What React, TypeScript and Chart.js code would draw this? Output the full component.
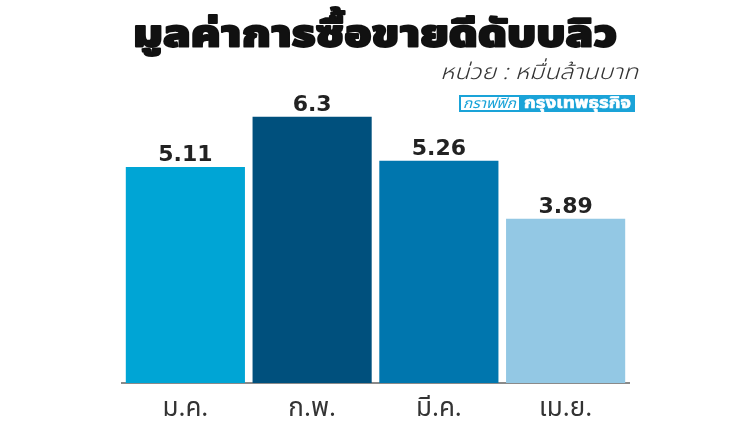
import React, { useEffect, useRef } from "react";
import { Chart, registerables } from "chart.js";

Chart.register(...registerables);

const categories = ["ม.ค.", "ก.พ.", "มี.ค.", "เม.ย."];
const values = [5.11, 6.3, 5.26, 3.89];
const valueLabels = ["5.11", "6.3", "5.26", "3.89"];
const barColors = ["#00a5d5", "#00507d", "#0076ae", "#93c8e4"];
const titleText = "มูลค่าการซื้อขายดีดับบลิว";
const unitText = "หน่วย : หมื่นล้านบาท";
const badgeLeft = "กราฟฟิก";
const badgeRight = "กรุงเทพธุรกิจ";

const THAI = "'Noto Sans Thai', 'Noto Sans Thai Looped', Loma, Garuda, 'Noto Sans', sans-serif";

function fitText(
  ctx: CanvasRenderingContext2D,
  text: string,
  left: number,
  width: number,
  baseline: number,
  stroke = 0
) {
  const w = ctx.measureText(text).width;
  const s = width / w;
  ctx.save();
  ctx.translate(left, baseline);
  ctx.scale(s, 1);
  ctx.textAlign = "left";
  ctx.textBaseline = "alphabetic";
  if (stroke > 0) {
    ctx.lineWidth = stroke;
    ctx.lineJoin = "round";
    ctx.strokeStyle = ctx.fillStyle as string;
    ctx.strokeText(text, 0, 0);
  }
  ctx.fillText(text, 0, 0);
  ctx.restore();
}

const overlay = {
  id: "overlay",
  afterDatasetsDraw(chart: any) {
    const ctx = chart.ctx as CanvasRenderingContext2D;
    const meta = chart.getDatasetMeta(0);
    ctx.save();
    // value labels
    ctx.fillStyle = "#222222";
    ctx.font = "bold 22px 'DejaVu Sans', sans-serif";
    ctx.textAlign = "center";
    ctx.textBaseline = "alphabetic";
    meta.data.forEach((bar: any, i: number) => {
      ctx.fillText(valueLabels[i], bar.x, bar.y - 6);
    });
    // title
    ctx.fillStyle = "#111111";
    ctx.font = `900 37px ${THAI}`;
    fitText(ctx, titleText, 133, 484, 46, 1.8);
    // unit
    ctx.fillStyle = "#333333";
    ctx.font = `italic 300 21px ${THAI}`;
    fitText(ctx, unitText, 440, 198, 79);
    // badge
    const bx = 459, by = 95, bh = 17, split = 520, bx2 = 635;
    ctx.fillStyle = "#1aa3d8";
    ctx.fillRect(bx, by, bx2 - bx, bh);
    ctx.fillStyle = "#ffffff";
    ctx.fillRect(bx + 2, by + 2, split - bx - 3, bh - 4);
    ctx.font = `italic 14px ${THAI}`;
    ctx.fillStyle = "#1aa3d8";
    fitText(ctx, badgeLeft, 463, 53, by + 13);
    ctx.font = `bold 15px ${THAI}`;
    ctx.fillStyle = "#ffffff";
    fitText(ctx, badgeRight, 524, 107, by + 13, 0.6);
    ctx.restore();
  },
};

export default function App() {
  const ref = useRef<HTMLCanvasElement | null>(null);
  useEffect(() => {
    if (!ref.current) return;
    const chart = new Chart(ref.current, {
      type: "bar",
      data: {
        labels: categories,
        datasets: [
          {
            data: values,
            backgroundColor: barColors,
            categoryPercentage: 0.94,
            barPercentage: 1,
          },
        ],
      },
      options: {
        responsive: false,
        animation: false,
        devicePixelRatio: 1,
        layout: { padding: { left: 122, right: 121, top: 45, bottom: 0 } },
        plugins: { legend: { display: false }, tooltip: { enabled: false } },
        scales: {
          x: {
            grid: { display: false },
            border: { display: true, color: "#8a8a8a", width: 2 },
            ticks: {
              color: "#333333",
              font: { size: 26, family: THAI, lineHeight: 1 },
              padding: 7,
            },
            afterFit(scale: any) {
              scale.height = 39;
            },
          },
          y: { display: false, min: 0, max: 8 },
        },
      },
      plugins: [overlay],
    });
    return () => chart.destroy();
  }, []);
  return (
    <div style={{ position: "absolute", left: 0, top: 0, width: 750, height: 422, background: "#ffffff" }}>
      <canvas ref={ref} width={750} height={422} style={{ display: "block", width: 750, height: 422 }} />
    </div>
  );
}
